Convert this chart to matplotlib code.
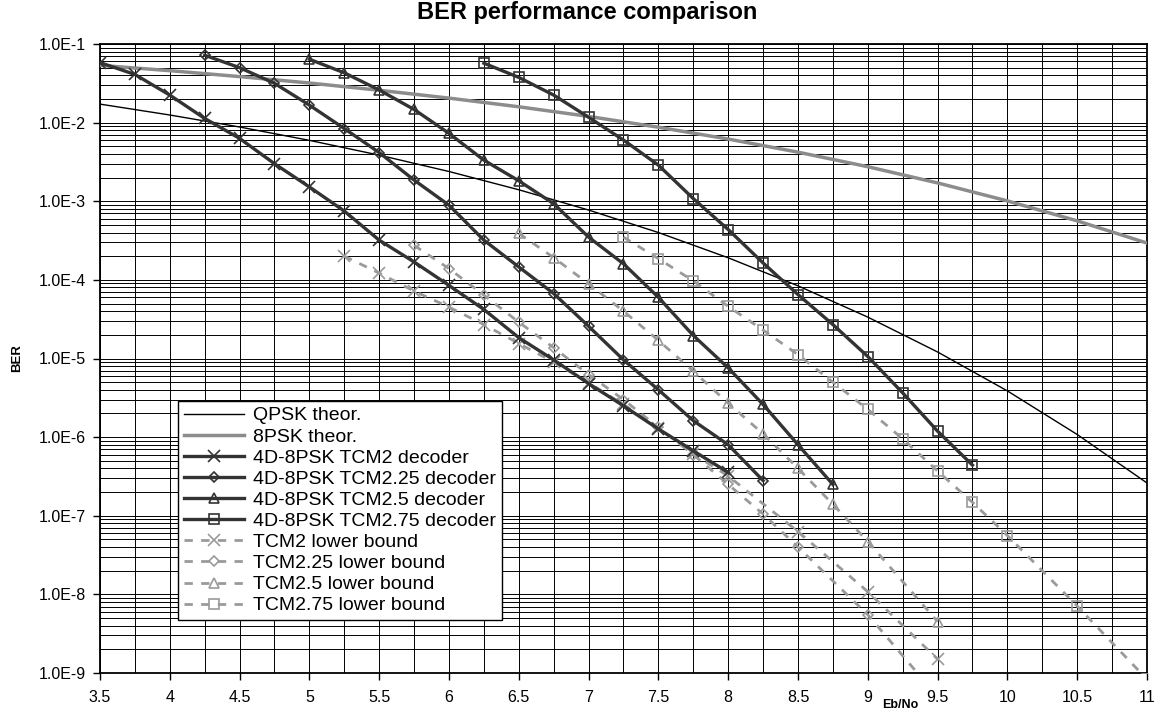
import matplotlib
matplotlib.use("Agg")
import matplotlib.pyplot as plt
from matplotlib.ticker import FixedLocator, NullFormatter
import numpy as np

plt.rcParams['font.family'] = ['Liberation Sans', 'DejaVu Sans']

# ---------------- data ----------------
theor_x = [3.5, 4.0, 4.5, 5.0, 5.5, 6.0, 6.5, 7.0, 7.5, 8.0, 8.5, 9.0, 9.5, 10.0, 10.5, 11.0]
qpsk_ber = [1.72e-2, 1.25e-2, 8.8e-3, 5.95e-3, 3.86e-3, 2.39e-3, 1.40e-3, 7.73e-4,
            4.0e-4, 1.91e-4, 8.4e-5, 3.36e-5, 1.21e-5, 3.87e-6, 1.08e-6, 2.61e-7]
psk8_ber = [5.35e-2, 4.58e-2, 3.85e-2, 3.19e-2, 2.58e-2, 2.05e-2, 1.59e-2, 1.20e-2,
            8.74e-3, 6.18e-3, 4.21e-3, 2.75e-3, 1.71e-3, 1.01e-3, 5.63e-4, 2.94e-4]

tcm2_x = [3.5, 3.75, 4.0, 4.25, 4.5, 4.75, 5.0, 5.25, 5.5, 5.75, 6.0, 6.25, 6.5, 6.75,
          7.0, 7.25, 7.5, 7.75, 8.0]
tcm2_ber = [5.8e-2, 4.1e-2, 2.24e-2, 1.13e-2, 6.3e-3, 3.0e-3, 1.52e-3, 7.5e-4, 3.2e-4,
            1.69e-4, 8.5e-5, 4.2e-5, 1.84e-5, 9.6e-6, 4.8e-6, 2.5e-6, 1.27e-6, 6.7e-7, 3.55e-7]

tcm225_x = [4.25, 4.5, 4.75, 5.0, 5.25, 5.5, 5.75, 6.0, 6.25, 6.5, 6.75, 7.0, 7.25,
            7.5, 7.75, 8.0, 8.25]
tcm225_ber = [7.2e-2, 5.0e-2, 3.16e-2, 1.67e-2, 8.4e-3, 4.16e-3, 1.86e-3, 8.9e-4,
              3.2e-4, 1.46e-4, 6.7e-5, 2.57e-5, 9.6e-6, 4.0e-6, 1.62e-6, 8.0e-7, 2.8e-7]

tcm25_x = [5.0, 5.25, 5.5, 5.75, 6.0, 6.25, 6.5, 6.75, 7.0, 7.25, 7.5, 7.75, 8.0,
           8.25, 8.5, 8.75]
tcm25_ber = [6.4e-2, 4.3e-2, 2.6e-2, 1.47e-2, 7.3e-3, 3.33e-3, 1.82e-3, 9.3e-4,
             3.5e-4, 1.6e-4, 6.0e-5, 1.96e-5, 7.6e-6, 2.6e-6, 8.0e-7, 2.5e-7]

tcm275_x = [6.25, 6.5, 6.75, 7.0, 7.25, 7.5, 7.75, 8.0, 8.25, 8.5, 8.75, 9.0, 9.25,
            9.5, 9.75]
tcm275_ber = [5.7e-2, 3.76e-2, 2.24e-2, 1.17e-2, 6.0e-3, 2.88e-3, 1.08e-3, 4.37e-4,
              1.64e-4, 6.5e-5, 2.7e-5, 1.06e-5, 3.65e-6, 1.19e-6, 4.4e-7]

lb2_x = [5.25, 5.5, 5.75, 6.0, 6.25, 6.5, 6.75, 7.0, 7.25, 7.5, 7.75, 8.0, 8.5, 9.0, 9.5]
lb2_ber = [2.0e-4, 1.22e-4, 7.2e-5, 4.5e-5, 2.7e-5, 1.55e-5, 9.0e-6, 4.9e-6, 2.6e-6,
           1.31e-6, 6.1e-7, 3.2e-7, 6.3e-8, 1.08e-8, 1.5e-9]

lb225_x = [5.75, 6.0, 6.25, 6.5, 6.75, 7.0, 7.25, 7.5, 7.75, 8.0, 8.25, 8.5, 9.0, 9.5]
lb225_ber = [2.75e-4, 1.39e-4, 6.4e-5, 2.9e-5, 1.37e-5, 6.25e-6, 3.0e-6, 1.33e-6,
             6.0e-7, 2.5e-7, 1.05e-7, 4.0e-8, 5.5e-9, 5.0e-10]

lb25_x = [6.5, 6.75, 7.0, 7.25, 7.5, 7.75, 8.0, 8.25, 8.5, 8.75, 9.0, 9.5]
lb25_ber = [3.9e-4, 1.92e-4, 8.9e-5, 4.0e-5, 1.7e-5, 6.9e-6, 2.7e-6, 1.1e-6, 4.0e-7,
            1.4e-7, 4.7e-8, 4.5e-9]

lb275_x = [7.25, 7.5, 7.75, 8.0, 8.25, 8.5, 8.75, 9.0, 9.25, 9.5, 9.75, 10.0, 10.5, 11.0]
lb275_ber = [3.5e-4, 1.86e-4, 9.7e-5, 4.6e-5, 2.3e-5, 1.12e-5, 5.0e-6, 2.25e-6, 9.5e-7,
             3.7e-7, 1.48e-7, 5.6e-8, 7.1e-9, 8.3e-10]

x_ticks = [3.5, 4, 4.5, 5, 5.5, 6, 6.5, 7, 7.5, 8, 8.5, 9, 9.5, 10, 10.5, 11]
x_tick_labels = ['3.5', '4', '4.5', '5', '5.5', '6', '6.5', '7', '7.5', '8', '8.5', '9',
                 '9.5', '10', '10.5', '11']
y_ticks = [1e-9, 1e-8, 1e-7, 1e-6, 1e-5, 1e-4, 1e-3, 1e-2, 1e-1]
y_tick_labels = ['1.0E-9', '1.0E-8', '1.0E-7', '1.0E-6', '1.0E-5', '1.0E-4', '1.0E-3',
                 '1.0E-2', '1.0E-1']

# ---------------- figure ----------------
fig = plt.figure(figsize=(11.59, 7.13), dpi=100)
ax = fig.add_axes([100 / 1159, 1 - 673 / 713, 1047 / 1159, 629 / 713])
ax.set_yscale('log')
ax.set_xlim(3.5, 11)
ax.set_ylim(1e-9, 1e-1)

# grid
for xv in np.arange(3.5, 11.001, 0.25):
    ax.axvline(xv, color='black', lw=0.7, zorder=1)
for d in range(-9, 0):
    for m in range(1, 10):
        v = m * 10.0 ** d
        if 1e-9 <= v <= 1e-1:
            ax.axhline(v, color='black', lw=0.7, zorder=1)

dark = '#333333'
gray = '#8c8c8c'
lbgray = '#9a9a9a'

ax.plot(theor_x, qpsk_ber, color='black', lw=1.0, label='QPSK theor.', zorder=3)
ax.plot(theor_x, psk8_ber, color=gray, lw=2.5, label='8PSK theor.', zorder=3)

dec_kw = dict(color=dark, lw=2.4, mfc='none', mec=dark, zorder=4)
ax.plot(tcm2_x, tcm2_ber, marker='x', ms=8, mew=1.2, label='4D-8PSK TCM2 decoder', **dec_kw)
ax.plot(tcm225_x, tcm225_ber, marker='D', ms=5.5, mew=1.2, label='4D-8PSK TCM2.25 decoder', **dec_kw)
ax.plot(tcm25_x, tcm25_ber, marker='^', ms=7, mew=1.2, label='4D-8PSK TCM2.5 decoder', **dec_kw)
ax.plot(tcm275_x, tcm275_ber, marker='s', ms=7, mew=1.2, label='4D-8PSK TCM2.75 decoder', **dec_kw)

lb_kw = dict(color=lbgray, lw=2.0, dashes=(3, 3), mfc='none', mec=lbgray, zorder=3)
ax.plot(lb2_x, lb2_ber, marker='x', ms=8, mew=1.2, label='TCM2 lower bound', **lb_kw)
ax.plot(lb225_x, lb225_ber, marker='D', ms=5.5, mew=1.2, label='TCM2.25 lower bound', **lb_kw)
ax.plot(lb25_x, lb25_ber, marker='^', ms=7, mew=1.2, label='TCM2.5 lower bound', **lb_kw)
ax.plot(lb275_x, lb275_ber, marker='s', ms=7, mew=1.2, label='TCM2.75 lower bound', **lb_kw)

# ticks
ax.xaxis.set_major_locator(FixedLocator(x_ticks))
ax.set_xticklabels(x_tick_labels)
ax.yaxis.set_major_locator(FixedLocator(y_ticks))
ax.set_yticklabels(y_tick_labels)
ax.yaxis.set_minor_formatter(NullFormatter())
ax.tick_params(axis='y', which='minor', length=0)
ax.tick_params(axis='both', which='major', direction='out', length=5, width=1,
               labelsize=11.5, colors='black')
ax.tick_params(axis='x', pad=7)
ax.tick_params(axis='y', pad=5)
for s in ax.spines.values():
    s.set_color('black')
    s.set_linewidth(1.3)

fig.text(587 / 1159, 1 - 13 / 713, 'BER performance comparison', fontsize=17,
         fontweight='bold', ha='center', va='center')
fig.text(900 / 1159, 1 - 705 / 713, 'Eb/No', fontsize=9, fontweight='bold',
         ha='center', va='center')
fig.text(17 / 1159, 1 - 358 / 713, 'BER', fontsize=9.5, fontweight='bold',
         ha='center', va='center', rotation=90)

leg = ax.legend(loc='upper left', bbox_to_anchor=(178 / 1159, 1 - 401 / 713),
                bbox_transform=fig.transFigure, fontsize=14, frameon=True,
                fancybox=False, framealpha=1, edgecolor='black', handlelength=3.1,
                labelspacing=0.18, borderpad=0.3, handletextpad=0.45, borderaxespad=0)
leg.get_frame().set_linewidth(1.0)
leg.set_zorder(10)

fig.savefig('out.png', dpi=100)
